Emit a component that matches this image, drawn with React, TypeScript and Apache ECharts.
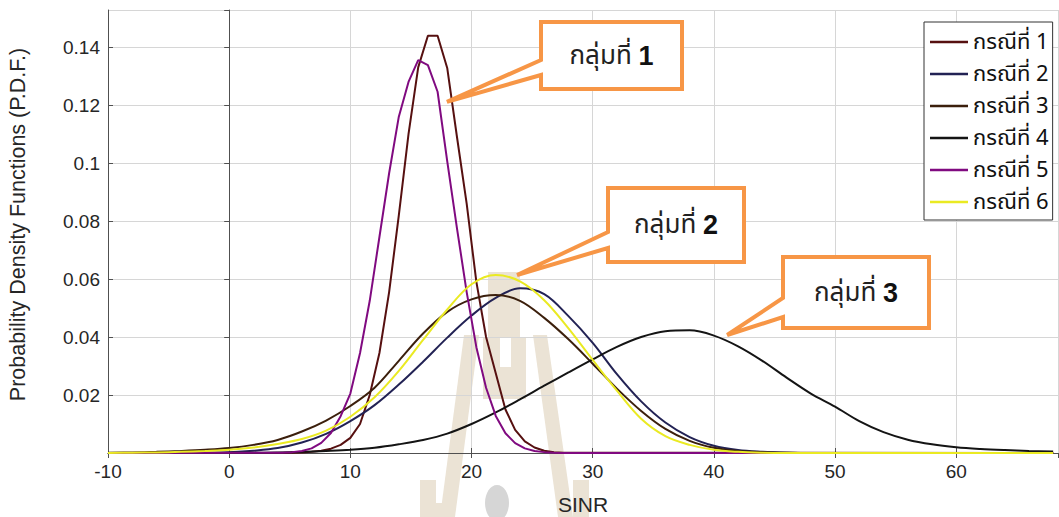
import React, { useEffect, useRef } from "react";
import * as echarts from "echarts";

// ---------- data ----------
const legendNames = ["กรณีที่ 1", "กรณีที่ 2", "กรณีที่ 3", "กรณีที่ 4", "กรณีที่ 5", "กรณีที่ 6"];
const seriesColors = ["#561010", "#222254", "#3b1f0c", "#141414", "#800a80", "#eaea22"];
const groupLabels = ["กลุ่มที่ ", "1", "2", "3"];

// fine grid used by the two narrow curves (cases 1 and 5)
const narrowX = [
  -10, 4.4, 5.2, 6.0, 6.8, 7.6, 8.4, 9.2, 10.0, 10.8, 11.6, 12.4, 13.2, 14.0, 14.8, 15.6,
  16.4, 17.2, 18.0, 18.8, 19.6, 20.4, 21.2, 22.0, 22.8, 23.6, 24.4, 25.2, 26.0, 26.8, 27.6, 68,
];
const case1 = [
  0, 0.0, 0.0001, 0.0002, 0.0004, 0.0008, 0.0015, 0.0028, 0.0052, 0.01, 0.02, 0.0345, 0.0555,
  0.082, 0.11, 0.133, 0.1439, 0.1439, 0.1327, 0.109, 0.086, 0.059, 0.04, 0.0275, 0.015, 0.008,
  0.004, 0.0019, 0.0008, 0.0003, 0.0001, 0,
];
const case5 = [
  0, 0.0001, 0.0003, 0.0007, 0.0016, 0.0035, 0.0069, 0.0127, 0.0205, 0.0345, 0.0525, 0.0745,
  0.0965, 0.116, 0.128, 0.1355, 0.1338, 0.1246, 0.1005, 0.0775, 0.0555, 0.0365, 0.0225, 0.0128,
  0.0068, 0.0034, 0.0016, 0.0007, 0.0003, 0.0001, 0.0, 0,
];

// coarse grid used by the four wide curves
const wideX = [
  -10, -8, -6, -4, -2, 0, 2, 4, 6, 8, 10, 12, 14, 16, 18, 20, 22, 24, 26, 28, 30, 32, 34, 36,
  38, 40, 42, 44, 46, 48, 50, 52, 54, 56, 58, 60, 62, 64, 66, 68,
];
const case2 = [
  0, 0, 0, 0, 0.0001, 0.0003, 0.0008, 0.0017, 0.0036, 0.0066, 0.011, 0.0165, 0.0236, 0.0315,
  0.0398, 0.0474, 0.0535, 0.0568, 0.0548, 0.0472, 0.038, 0.0272, 0.0178, 0.0105, 0.0055,
  0.0025, 0.001, 0.0004, 0.0001, 0, 0, 0, 0, 0, 0, 0, 0, 0, 0, 0,
];
const case3 = [
  0.0001, 0.0002, 0.0004, 0.0007, 0.0011, 0.0017, 0.0028, 0.0045, 0.0074, 0.0112, 0.0162,
  0.0225, 0.0318, 0.0412, 0.0487, 0.053, 0.0545, 0.0525, 0.0466, 0.0392, 0.0308, 0.0222,
  0.0145, 0.0083, 0.0042, 0.0018, 0.0007, 0.0003, 0.0001, 0, 0, 0, 0, 0, 0, 0, 0, 0, 0, 0,
];
const case4 = [
  0, 0, 0, 0, 0, 0.0001, 0.0001, 0.0002, 0.0004, 0.0007, 0.0011, 0.0018, 0.003, 0.0045,
  0.0067, 0.01, 0.014, 0.0185, 0.0232, 0.0278, 0.0323, 0.0366, 0.04, 0.042, 0.0423, 0.0405,
  0.0368, 0.0318, 0.026, 0.0205, 0.016, 0.011, 0.0072, 0.0046, 0.003, 0.002, 0.0014, 0.001,
  0.0007, 0.0005,
];
const case6 = [
  0, 0.0001, 0.0002, 0.0004, 0.0007, 0.0011, 0.0019, 0.0031, 0.0048, 0.0077, 0.0125, 0.0192,
  0.0283, 0.039, 0.0495, 0.0582, 0.0614, 0.0592, 0.0527, 0.043, 0.0321, 0.0215, 0.0118,
  0.0058, 0.0028, 0.0011, 0.0004, 0.0001, 0, 0, 0, 0, 0, 0, 0, 0, 0, 0, 0, 0,
];

// data points the callouts point at
const calloutTargets = [
  [17.97, 0.1211],
  [23.76, 0.0614],
  [41.1, 0.0407],
];

const X_MIN = -10;
const X_MAX = 68.4;
const Y_MAX = 0.1528;

const pairs = (xs: number[], ys: number[]) => xs.map((x, i) => [x, ys[i]]);

export default function App() {
  const ref = useRef<HTMLDivElement>(null);

  useEffect(() => {
    if (!ref.current) return;
    const chart = echarts.init(ref.current, null, { renderer: "svg", width: 1059, height: 517 });
    const font = "'Liberation Sans', Arial, 'DejaVu Sans', sans-serif";
    const thai = "'Noto Sans Thai', 'Leelawadee UI', Tahoma, 'Liberation Sans', 'DejaVu Sans', sans-serif";
    const axisColor = "#505050";
    const gridColor = "#d6d6d6";
    const textColor = "#262626";

    const lines = [
      { d: pairs(narrowX, case1), smooth: false },
      { d: pairs(wideX, case2), smooth: true },
      { d: pairs(wideX, case3), smooth: true },
      { d: pairs(wideX, case4), smooth: true },
      { d: pairs(narrowX, case5), smooth: false },
      { d: pairs(wideX, case6), smooth: true },
    ];

    chart.setOption({
      animation: false,
      backgroundColor: "#ffffff",
      grid: {
        left: 108,
        right: 1,
        top: 10,
        bottom: 64,
        containLabel: false,
        outerBoundsMode: "none",
      },
      legend: {
        show: true,
        orient: "vertical",
        left: 924,
        top: 22,
        data: legendNames,
        icon: "rect",
        backgroundColor: "#ffffff",
        borderColor: "#333333",
        borderWidth: 1,
        borderRadius: 0,
        padding: [9, 4, 7, 6],
        itemWidth: 38,
        itemHeight: 2.5,
        itemGap: 10,
        textStyle: { fontFamily: thai, fontSize: 22, color: "#111111", lineHeight: 20 },
      },
      xAxis: [
        {
          type: "value",
          min: X_MIN,
          max: X_MAX,
          interval: 10,
          name: "SINR",
          nameLocation: "middle",
          nameGap: 41,
          nameTextStyle: { fontFamily: font, fontSize: 21, color: textColor, lineHeight: 21 },
          axisLine: { show: true, onZero: false, lineStyle: { color: axisColor, width: 1 } },
          axisTick: { show: true, inside: true, length: 5, lineStyle: { color: axisColor } },
          axisLabel: {
            fontFamily: font,
            fontSize: 19,
            color: textColor,
            margin: 9,
            showMaxLabel: false,
          },
          splitLine: { show: true, lineStyle: { color: gridColor, width: 1 } },
        },
        {
          type: "value",
          position: "top",
          min: X_MIN,
          max: X_MAX,
          interval: 10,
          axisLine: { show: true, lineStyle: { color: axisColor, width: 1 } },
          axisTick: { show: true, inside: true, length: 5, lineStyle: { color: axisColor } },
          axisLabel: { show: false },
          splitLine: { show: false },
        },
      ],
      yAxis: [
        {
          type: "value",
          min: 0,
          max: Y_MAX,
          interval: 0.02,
          name: "Probability Density Functions (P.D.F.)",
          nameLocation: "middle",
          nameGap: 79,
          nameTextStyle: {
            fontFamily: font,
            fontSize: 21.5,
            color: textColor,
            padding: [0, 0, 0, 14],
          },
          axisLine: { show: true, onZero: false, lineStyle: { color: axisColor, width: 1 } },
          axisTick: { show: true, inside: true, length: 5, lineStyle: { color: axisColor } },
          axisLabel: {
            fontFamily: font,
            fontSize: 19,
            color: textColor,
            margin: 8,
            showMinLabel: false,
            showMaxLabel: false,
          },
          splitLine: { show: true, lineStyle: { color: gridColor, width: 1 } },
        },
        {
          type: "value",
          position: "right",
          min: 0,
          max: Y_MAX,
          interval: 0.02,
          axisLine: { show: true, lineStyle: { color: axisColor, width: 1 } },
          axisTick: { show: true, inside: true, length: 5, lineStyle: { color: axisColor } },
          axisLabel: { show: false },
          splitLine: { show: false },
        },
      ],
      series: lines.map((l, i) => ({
        name: legendNames[i],
        type: "line",
        xAxisIndex: 0,
        yAxisIndex: 0,
        data: l.d,
        smooth: l.smooth ? 0.35 : false,
        symbol: "none",
        showSymbol: false,
        clip: true,
        z: 2 + i,
        color: seriesColors[i],
        lineStyle: { color: seriesColors[i], width: 2 },
        itemStyle: { color: seriesColors[i] },
      })),
    });

    // callouts (boxes in page layout, tips at data points)
    const boxes = [
      { x0: 541, y0: 22, x1: 682, y1: 89, b1: 60, b2: 75 },
      { x0: 608, y0: 188, x1: 744, y1: 262, b1: 232, b2: 248 },
      { x0: 783, y0: 257, x1: 929, y1: 328, b1: 298, b2: 317 },
    ];
    const orange = "#f79646";
    const callouts: any[] = [];
    boxes.forEach((b, i) => {
      const tip = chart.convertToPixel({ xAxisIndex: 0, yAxisIndex: 0 }, calloutTargets[i]) as number[];
      callouts.push({
        type: "polygon",
        z: 50,
        shape: {
          points: [
            [b.x0, b.y0],
            [b.x1, b.y0],
            [b.x1, b.y1],
            [b.x0, b.y1],
            [b.x0, b.b2],
            [tip[0], tip[1]],
            [b.x0, b.b1],
          ],
        },
        style: { fill: "#ffffff", stroke: orange, lineWidth: 4, lineJoin: "miter" },
      });
      callouts.push({
        type: "text",
        z: 51,
        x: (b.x0 + b.x1) / 2,
        y: (b.y0 + b.y1) / 2,
        style: {
          text: "{a|" + groupLabels[0] + "}{b|" + groupLabels[i + 1] + "}",
          align: "center",
          verticalAlign: "middle",
          rich: {
            a: { fontFamily: thai, fontSize: 26, fill: "#222222" },
            b: { fontFamily: font, fontSize: 27, fontWeight: "bold", fill: "#111111" },
          },
        },
      });
    });

    // faint background watermark (as in the scanned page)
    const beige = "#ebe3d5";
    const watermark = [
      { type: "rect", z: -1, shape: { x: 488, y: 272, width: 32, height: 66 }, style: { fill: beige } },
      { type: "rect", z: -1, shape: { x: 483, y: 337, width: 17, height: 62 }, style: { fill: beige } },
      { type: "rect", z: -1, shape: { x: 511, y: 337, width: 15, height: 62 }, style: { fill: beige } },
      { type: "rect", z: -1, shape: { x: 483, y: 367, width: 43, height: 32 }, style: { fill: beige } },
      {
        type: "polygon",
        z: -1,
        shape: { points: [[464, 335], [479, 335], [455, 517], [440, 517]] },
        style: { fill: beige },
      },
      {
        type: "polygon",
        z: -1,
        shape: { points: [[533, 335], [547, 335], [573, 517], [558, 517]] },
        style: { fill: beige },
      },
      { type: "rect", z: -1, shape: { x: 420, y: 480, width: 16, height: 37 }, style: { fill: beige } },
      { type: "rect", z: -1, shape: { x: 420, y: 503, width: 34, height: 14 }, style: { fill: beige } },
      { type: "rect", z: -1, shape: { x: 573, y: 480, width: 16, height: 37 }, style: { fill: beige } },
      { type: "ellipse", z: -1, shape: { cx: 497, cy: 503, rx: 12, ry: 18 }, style: { fill: "#d6d6d6" } },
    ];

    chart.setOption({ graphic: [...watermark, ...callouts] });

    return () => chart.dispose();
  }, []);

  return (
    <div
      ref={ref}
      style={{ position: "fixed", left: 0, top: 0, width: 1059, height: 517, background: "#fff" }}
    />
  );
}
